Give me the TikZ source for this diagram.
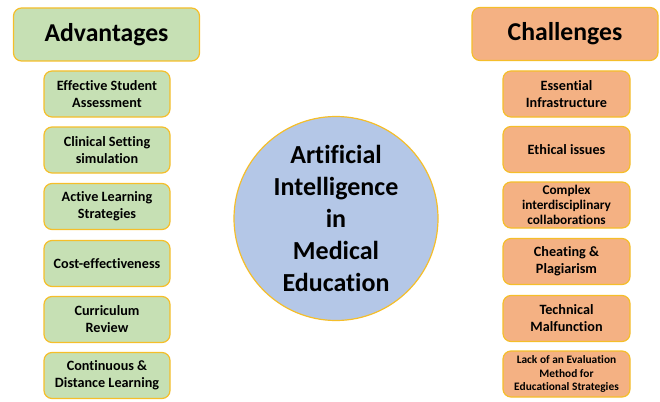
\documentclass[tikz,border=0pt]{standalone}
\usepackage{fontspec}
\setmainfont{Carlito}[Ligatures=NoCommon]
\definecolor{greenfill}{HTML}{C6E0B4}
\definecolor{orangefill}{HTML}{F4B183}
\definecolor{bluefill}{HTML}{B4C7E7}
\definecolor{goldline}{HTML}{F5BE2A}
\begin{document}
\begin{tikzpicture}[x=1pt,y=-1pt,
  base/.style={draw=goldline, line width=1.2pt, rounded corners=8pt, align=center, inner sep=0pt, font=\bfseries},
  header/.style={base, minimum width=186pt, minimum height=53pt, font=\bfseries\fontsize{25.7}{30}\selectfont},
  advbox/.style={base, fill=greenfill, minimum width=126pt, minimum height=46pt, font=\bfseries\fontsize{14.2}{17}\selectfont},
  chalbox/.style={base, fill=orangefill, minimum width=127pt, minimum height=46pt, font=\bfseries\fontsize{14.2}{17}\selectfont},
  hub/.style={circle, draw=goldline, line width=1.2pt, fill=bluefill, minimum size=204pt, inner sep=0pt, align=center, font=\bfseries\fontsize{26}{32}\selectfont}
]
\useasboundingbox (0,0) rectangle (660,401);
\node[header, fill=greenfill] (adv) at (106.5,34.5) {Advantages};
\node[header, fill=orangefill] (chal) at (565,34) {Challenges};

\node[advbox] (a1) at (107,94) {Effective Student\\Assessment};
\node[advbox] (a2) at (107,150) {Clinical Setting\\simulation};
\node[advbox] (a3) at (107,206.5) {Active Learning\\Strategies};
\node[advbox] (a4) at (107,263.5) {Cost-effectiveness};
\node[advbox] (a5) at (107,319.5) {Curriculum\\Review};
\node[advbox] (a6) at (107,375.5) {Continuous \&\\Distance Learning};

\node[chalbox] (c1) at (566.5,94) {Essential\\Infrastructure};
\node[chalbox] (c2) at (566.5,149.5) {Ethical issues};
\node[chalbox, font=\bfseries\fontsize{13.3}{15}\selectfont] (c3) at (566.5,205) {Complex\\interdisciplinary\\collaborations};
\node[chalbox] (c4) at (566.5,261.5) {Cheating \&\\Plagiarism};
\node[chalbox] (c5) at (566.5,318.5) {Technical\\Malfunction};
\node[chalbox, font=\bfseries\fontsize{11.4}{13.5}\selectfont] (c6) at (566.5,374) {Lack of an Evaluation\\Method for\\Educational Strategies};

\node[hub] (ai) at (336,218.5) {Artificial\\Intelligence\\in\\Medical\\Education};
\end{tikzpicture}
\end{document}
